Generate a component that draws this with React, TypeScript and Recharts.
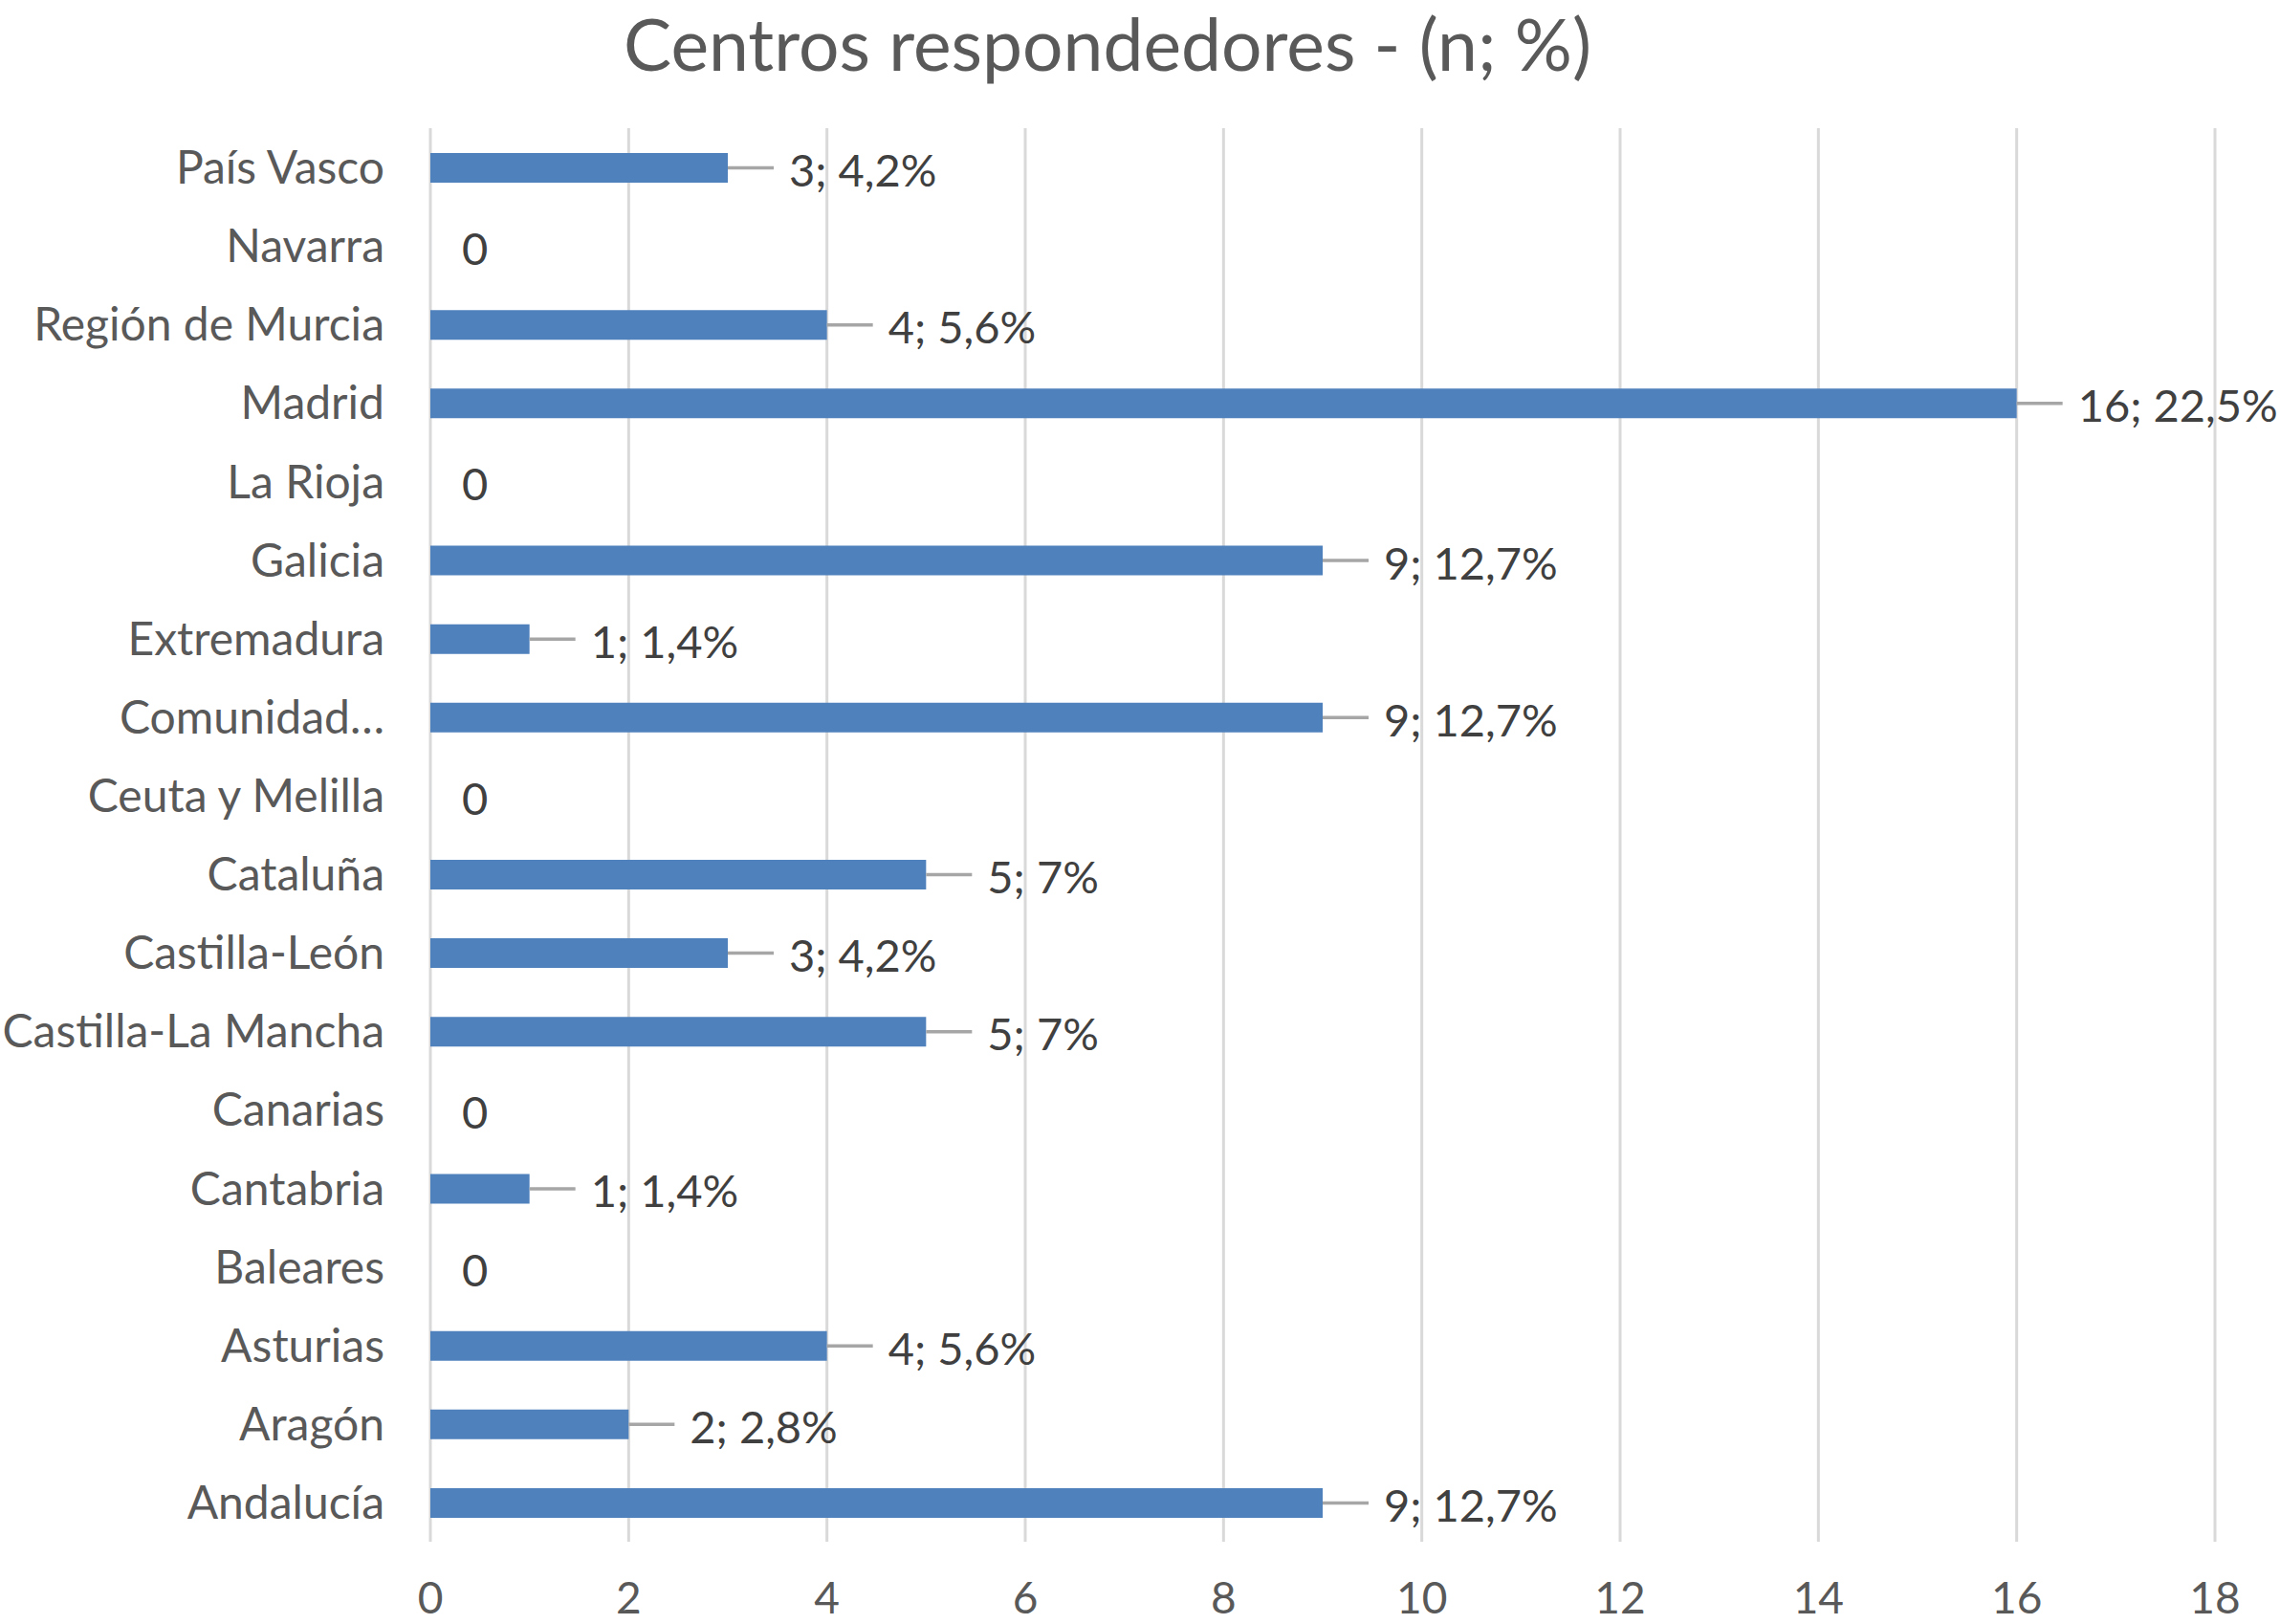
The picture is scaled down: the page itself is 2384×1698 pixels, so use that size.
import React from 'react';
import { BarChart, Bar, XAxis, YAxis, CartesianGrid, LabelList } from 'recharts';

const regions = [
  'País Vasco', 'Navarra', 'Región de Murcia', 'Madrid', 'La Rioja', 'Galicia',
  'Extremadura', 'Comunidad…', 'Ceuta y Melilla', 'Cataluña', 'Castilla-León',
  'Castilla-La Mancha', 'Canarias', 'Cantabria', 'Baleares', 'Asturias', 'Aragón', 'Andalucía',
];
const counts = [3, 0, 4, 16, 0, 9, 1, 9, 0, 5, 3, 5, 0, 1, 0, 4, 2, 9];
const percentLabels = [
  '4,2%', '', '5,6%', '22,5%', '', '12,7%', '1,4%', '12,7%', '', '7%', '4,2%', '7%', '', '1,4%', '', '5,6%', '2,8%', '12,7%',
];
const xTicks = [0, 2, 4, 6, 8, 10, 12, 14, 16, 18];
const title = 'Centros respondedores - (n; %)';

const data = regions.map((r, i) => ({
  region: r,
  value: counts[i],
  label: counts[i] === 0 ? '0' : `${counts[i]}; ${percentLabels[i]}`,
}));

const FONT = 'Lato, "Noto Sans", sans-serif';

const renderLabel = (props: any) => {
  const { x, y, width, height, value } = props;
  const text = String(value);
  const isZero = text === '0';
  const endX = isZero ? Number(x) : Number(x) + Number(width);
  const cy = Number(y) + Number(height) / 2;
  if (isZero) {
    return (
      <text x={endX + 33} y={cy + 3} dy="0.35em" fontSize={47} fontFamily={FONT} fill="#404040">
        {text}
      </text>
    );
  }
  return (
    <g>
      <line x1={endX} y1={cy} x2={endX + 48} y2={cy} stroke="#a6a6a6" strokeWidth={3.5} />
      <text x={endX + 64} y={cy + 3} dy="0.35em" fontSize={47} fontFamily={FONT} fill="#404040">
        {text}
      </text>
    </g>
  );
};

export default function App() {
  return (
    <div style={{ position: 'absolute', left: 0, top: 0, width: 2384, height: 1698, background: '#fff' }}>
      <BarChart
        width={2384}
        height={1698}
        data={data}
        layout="vertical"
        margin={{ top: 134, right: 68, bottom: 0, left: 0 }}
        barCategoryGap={0}
      >
        <CartesianGrid horizontal={false} stroke="#d9d9d9" strokeWidth={3} />
        <XAxis
          type="number"
          domain={[0, 18]}
          ticks={xTicks}
          axisLine={false}
          tickLine={false}
          tickSize={0}
          tickMargin={42}
          height={86}
          interval={0}
          tick={{ fill: '#595959', fontSize: 46, fontFamily: FONT }}
        />
        <YAxis
          type="category"
          dataKey="region"
          width={450}
          axisLine={false}
          tickLine={false}
          tickSize={0}
          tickMargin={48}
          interval={0}
          tick={{ fill: '#595959', fontSize: 48, fontFamily: FONT }}
        />
        <Bar dataKey="value" fill="#4f81bd" barSize={31} minPointSize={0.01} isAnimationActive={false}>
          <LabelList dataKey="label" content={renderLabel} />
        </Bar>
      </BarChart>
      <svg width={2384} height={1698} style={{ position: 'absolute', left: 0, top: 0, pointerEvents: 'none' }}>
        <text x={1158} y={74} textAnchor="middle" fontSize={75} fontFamily={FONT} fill="#595959">
          {title}
        </text>
      </svg>
    </div>
  );
}
